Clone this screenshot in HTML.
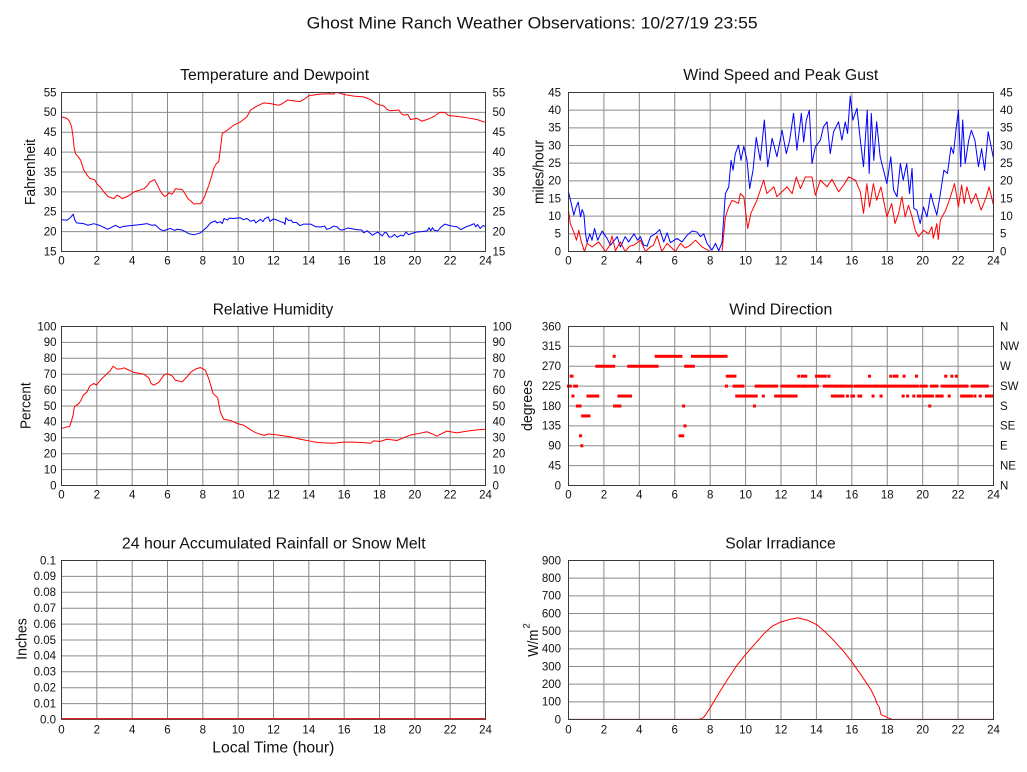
<!DOCTYPE html>
<html><head><meta charset="utf-8"><style>
html,body{margin:0;padding:0;background:#fff;}
svg{display:block;}
text{font-family:"Liberation Sans",Arial,sans-serif;fill:#111;}
.t{font-size:11.5px;}
.ttl{font-size:15.5px;}
.ax{font-size:14.5px;}
.g{stroke:#8a8a8a;stroke-width:1;fill:none;}
.f{stroke:#3a3a3a;stroke-width:1;fill:none;}
.d{fill:none;stroke-width:1;vector-effect:non-scaling-stroke;stroke-linejoin:round;}
</style></head><body>
<svg width="1027" height="772" viewBox="0 0 1027 772" xmlns="http://www.w3.org/2000/svg">
<rect width="1027" height="772" fill="#fff"/>
<text x="532.2" y="28.3" text-anchor="middle" style="font-size:17px" textLength="451" lengthAdjust="spacingAndGlyphs">Ghost Mine Ranch Weather Observations: 10/27/19 23:55</text>

<!-- Panel titles -->
<text class="ttl" x="274.7" y="80" text-anchor="middle" textLength="189" lengthAdjust="spacingAndGlyphs">Temperature and Dewpoint</text>
<text class="ttl" x="780.8" y="80" text-anchor="middle" textLength="195" lengthAdjust="spacingAndGlyphs">Wind Speed and Peak Gust</text>
<text class="ttl" x="273" y="314.3" text-anchor="middle" textLength="120.6" lengthAdjust="spacingAndGlyphs">Relative Humidity</text>
<text class="ttl" x="780.8" y="314.3" text-anchor="middle" textLength="103" lengthAdjust="spacingAndGlyphs">Wind Direction</text>
<text class="ttl" x="273.8" y="548.3" text-anchor="middle" textLength="303.7" lengthAdjust="spacingAndGlyphs">24 hour Accumulated Rainfall or Snow Melt</text>
<text class="ttl" x="780.5" y="548.3" text-anchor="middle" textLength="110.4" lengthAdjust="spacingAndGlyphs">Solar Irradiance</text>

<!-- Axis titles -->
<text class="ax" transform="translate(35,172) rotate(-90)" text-anchor="middle" textLength="66" lengthAdjust="spacingAndGlyphs">Fahrenheit</text>
<text class="ax" transform="translate(543.5,172) rotate(-90)" text-anchor="middle" textLength="64" lengthAdjust="spacingAndGlyphs">miles/hour</text>
<text class="ax" transform="translate(30.7,405.7) rotate(-90)" text-anchor="middle" textLength="46.7" lengthAdjust="spacingAndGlyphs">Percent</text>
<text class="ax" transform="translate(532,405.5) rotate(-90)" text-anchor="middle" textLength="51" lengthAdjust="spacingAndGlyphs">degrees</text>
<text class="ax" transform="translate(26.7,639) rotate(-90)" text-anchor="middle" textLength="41.7" lengthAdjust="spacingAndGlyphs">Inches</text>
<text class="ax" transform="translate(538,656.7) rotate(-90)" text-anchor="start" textLength="27" lengthAdjust="spacingAndGlyphs">W/m</text>
<text transform="translate(529.5,628.5) rotate(-90)" style="font-size:9.5px">2</text>
<text x="273.3" y="752.7" text-anchor="middle" style="font-size:16px" textLength="122" lengthAdjust="spacingAndGlyphs">Local Time (hour)</text>

<!-- ================= Panel 1 grid ================= -->
<path class="g" d="M96.83 92.5V251.5M132.17 92.5V251.5M167.5 92.5V251.5M202.83 92.5V251.5M238.17 92.5V251.5M273.5 92.5V251.5M308.83 92.5V251.5M344.17 92.5V251.5M379.5 92.5V251.5M414.83 92.5V251.5M450.17 92.5V251.5
M61.5 112.375H485.5M61.5 132.25H485.5M61.5 152.125H485.5M61.5 172H485.5M61.5 191.875H485.5M61.5 211.75H485.5M61.5 231.625H485.5"/>
<!-- Panel 2 grid -->
<path class="g" d="M603.92 92.5V251.5M639.33 92.5V251.5M674.75 92.5V251.5M710.17 92.5V251.5M745.58 92.5V251.5M781 92.5V251.5M816.42 92.5V251.5M851.83 92.5V251.5M887.25 92.5V251.5M922.67 92.5V251.5M958.08 92.5V251.5
M568.5 110.17H993.5M568.5 127.83H993.5M568.5 145.5H993.5M568.5 163.17H993.5M568.5 180.83H993.5M568.5 198.5H993.5M568.5 216.17H993.5M568.5 233.83H993.5"/>
<!-- Panel 3 grid -->
<path class="g" d="M96.83 326.5V485.5M132.17 326.5V485.5M167.5 326.5V485.5M202.83 326.5V485.5M238.17 326.5V485.5M273.5 326.5V485.5M308.83 326.5V485.5M344.17 326.5V485.5M379.5 326.5V485.5M414.83 326.5V485.5M450.17 326.5V485.5
M61.5 342.4H485.5M61.5 358.3H485.5M61.5 374.2H485.5M61.5 390.1H485.5M61.5 406H485.5M61.5 421.9H485.5M61.5 437.8H485.5M61.5 453.7H485.5M61.5 469.6H485.5"/>
<!-- Panel 4 grid -->
<path class="g" d="M603.92 326.5V485.5M639.33 326.5V485.5M674.75 326.5V485.5M710.17 326.5V485.5M745.58 326.5V485.5M781 326.5V485.5M816.42 326.5V485.5M851.83 326.5V485.5M887.25 326.5V485.5M922.67 326.5V485.5M958.08 326.5V485.5
M568.5 346.375H993.5M568.5 366.25H993.5M568.5 386.125H993.5M568.5 406H993.5M568.5 425.875H993.5M568.5 445.75H993.5M568.5 465.625H993.5"/>
<!-- Panel 5 grid -->
<path class="g" d="M96.83 560.5V719.5M132.17 560.5V719.5M167.5 560.5V719.5M202.83 560.5V719.5M238.17 560.5V719.5M273.5 560.5V719.5M308.83 560.5V719.5M344.17 560.5V719.5M379.5 560.5V719.5M414.83 560.5V719.5M450.17 560.5V719.5
M61.5 576.4H485.5M61.5 592.3H485.5M61.5 608.2H485.5M61.5 624.1H485.5M61.5 640H485.5M61.5 655.9H485.5M61.5 671.8H485.5M61.5 687.7H485.5M61.5 703.6H485.5"/>
<!-- Panel 6 grid -->
<path class="g" d="M603.92 560.5V719.5M639.33 560.5V719.5M674.75 560.5V719.5M710.17 560.5V719.5M745.58 560.5V719.5M781 560.5V719.5M816.42 560.5V719.5M851.83 560.5V719.5M887.25 560.5V719.5M922.67 560.5V719.5M958.08 560.5V719.5
M568.5 578.17H993.5M568.5 595.83H993.5M568.5 613.5H993.5M568.5 631.17H993.5M568.5 648.83H993.5M568.5 666.5H993.5M568.5 684.17H993.5M568.5 701.83H993.5"/>

<!-- ================= Data ================= -->
<!-- Panel 1 -->
<g transform="translate(61.5,92.5) scale(17.6667,-3.975) translate(0,-55)">
<polyline class="d" stroke="#ff0000" points="0,48.9 0.3,48.5 0.45,47.8 0.57,46.4 0.65,44 0.72,41 0.79,39.6 0.95,38.8 1.08,38 1.26,35.5 1.45,34.2 1.6,33.4 1.89,33 2.0,32 2.2,31.2 2.4,30 2.64,28.8 2.96,28.3 3.15,29.2 3.3,28.8 3.43,28.3 3.7,28.8 3.9,29.3 4.1,30 4.4,30.4 4.66,30.8 4.85,31.5 5.0,32.5 5.1,32.7 5.26,33.1 5.4,32 5.57,30.4 5.7,29.5 5.85,28.8 6.0,29.3 6.08,29.8 6.26,29.4 6.35,30 6.45,30.8 6.6,30.7 6.83,30.6 7.0,29.5 7.15,28.3 7.3,27.8 7.5,26.9 7.6,27 7.87,27 8.1,28.8 8.34,31.7 8.5,34 8.62,35.9 8.75,37 8.9,37.6 9.0,41 9.1,44.7 9.38,45.5 9.75,46.8 10.13,47.6 10.5,48.9 10.7,50.6 11.07,51.6 11.45,52.4 11.83,52.2 12.3,51.8 12.5,52.2 12.8,53.1 13.0,53 13.5,52.7 13.8,53.5 14.0,54.2 14.3,54.4 14.66,54.6 15.2,54.7 15.4,54.6 15.5,55 15.7,54.9 16.0,54.5 16.55,54.1 17.1,53.9 17.5,53.2 17.8,52.2 18.0,51.9 18.25,51.6 18.4,50.8 18.6,50.4 19.1,50.6 19.25,49.6 19.4,49.3 19.6,49.5 19.75,48.2 20.1,48.5 20.4,47.8 20.7,48.2 21.1,49 21.4,50 21.7,50 21.9,49.2 22.4,49 23,48.6 23.5,48.2 24,47.5"/>
<polyline class="d" stroke="#0000ff" points="0,23 0.32,22.9 0.5,23.5 0.66,24.4 0.75,23 0.85,22.2 1.26,22 1.5,21.6 1.83,22 2.2,21.5 2.6,20.6 2.8,21 3.06,21.6 3.3,21 3.5,21.3 4.1,21.6 4.5,21.8 4.85,22 5.1,21.6 5.3,21.7 5.6,20.5 5.8,20.2 6.0,20.6 6.17,20.8 6.4,20.3 6.55,20.6 6.83,20.4 7.0,20 7.2,19.5 7.5,19.2 7.87,19.7 8.25,21.2 8.43,22.2 8.7,22.7 8.8,22.2 9.0,22.5 9.1,22 9.2,23.3 9.4,22.9 9.5,23.4 9.75,23.3 10.1,23.5 10.3,23 10.5,23.3 10.7,22.6 10.9,22.9 11.0,22.2 11.26,23.1 11.4,22.5 11.5,23.2 11.7,23.7 11.8,22.6 12.0,23.2 12.2,22.9 12.4,22.5 12.6,22.2 12.65,21.8 12.7,23.5 12.85,22.8 13,22.9 13.1,22.3 13.3,22.3 13.5,21.5 13.7,21.9 14.1,21.9 14.4,21.2 14.7,21.2 14.9,21.4 15.0,20.6 15.2,20.8 15.4,21.4 15.6,21.2 15.75,20.5 15.9,20.4 16.2,20.9 16.7,20.5 17.0,20.4 17.1,19.7 17.3,20.2 17.5,19.5 17.6,19.1 17.9,19.9 18.15,18.9 18.3,19.8 18.4,19.7 18.55,18.6 18.7,18.7 18.85,19.3 19.0,18.6 19.2,19.1 19.35,18.9 19.5,19.9 19.65,19.2 19.8,19.5 20.1,19.9 20.4,20 20.7,20.2 20.8,21 20.9,20.2 21.0,21 21.1,20.3 21.3,20.2 21.5,21.2 21.7,21.9 21.9,21.6 22.1,21.4 22.4,21.2 22.6,20.5 22.9,21.2 23.15,21.6 23.35,22 23.45,21.2 23.55,21.8 23.7,20.8 23.85,21.5 24,21.3"/>
</g>
<!-- Panel 2 -->
<g transform="translate(568.5,92.5) scale(17.7083,-3.5333) translate(0,-45)">
<polyline class="d" stroke="#0000ff" points="0,16.9 0.2,12.6 0.3,10.3 0.43,12.6 0.55,14 0.68,9.8 0.77,11.9 0.87,10.6 0.96,5 1.05,2.5 1.2,5 1.33,3.2 1.47,6.5 1.65,3.2 1.9,5.8 2.18,3.7 2.37,1.8 2.75,4.2 2.93,1.3 3.2,4.2 3.4,2.7 3.7,5 3.9,3.2 4.06,4.2 4.25,1.8 4.44,1.5 4.63,4.2 4.9,5 5.15,6.2 5.38,2.7 5.57,5.3 5.75,2.5 6.13,3.7 6.41,2.7 6.7,4.6 6.98,5.8 7.26,5.5 7.45,4.2 7.64,5 7.82,2.3 8.1,0.4 8.3,2.3 8.48,0.2 8.67,2.5 8.86,16.4 9.05,18.3 9.18,25.8 9.29,23 9.42,27.7 9.6,30.1 9.74,25.8 9.9,29.8 10.08,25.8 10.23,17.8 10.42,23 10.6,32.3 10.83,25.8 11.06,37.2 11.25,24 11.5,32 11.77,26.8 12.06,34.3 12.3,27.7 12.49,31.5 12.71,39.1 12.9,28.7 13.15,39.1 13.28,31 13.43,37.2 13.6,40 13.75,24.9 13.94,29.6 14.22,31.5 14.4,35.3 14.6,36.7 14.78,27.7 14.97,33.9 15.25,36.7 15.44,31.5 15.63,36.7 15.76,33.4 15.91,44 16.06,37.2 16.29,40.5 16.48,31.5 16.66,24 16.87,40 16.98,22.1 17.1,39.1 17.24,25.8 17.4,36.7 17.6,26.8 17.79,23 17.98,19.2 18.2,26.8 18.36,17.4 18.55,15.5 18.74,24.9 18.9,20.2 19.1,24.9 19.26,16.4 19.4,23.5 19.5,12.2 19.67,11.7 19.86,7.9 20.05,12.6 20.24,9.8 20.46,16.4 20.6,13.6 20.8,10.3 21,16.4 21.2,23 21.4,22.1 21.6,29.6 21.74,27.7 21.9,35.3 22.02,40 22.15,24 22.26,37.2 22.4,24.9 22.6,31.5 22.75,34.3 22.95,31.5 23.15,24 23.33,29.1 23.5,23 23.7,33.9 24,26.3"/>
<polyline class="d" stroke="#ff0000" points="0,11.7 0.1,7.9 0.3,5.5 0.45,3.2 0.58,6 0.7,3.2 0.9,0 1.05,2.3 1.33,1.3 1.7,2.7 2.09,0 2.3,1.5 2.46,4.4 2.65,0.2 2.93,2.7 3.2,0 3.45,1.5 3.7,1.8 4.06,3.2 4.35,0 4.6,1.2 4.8,1.8 5,4.4 5.27,0 5.57,2.3 6.04,0 6.32,2.3 6.6,1 6.88,1.8 7.17,3.2 7.54,1.3 8,0 8.67,0 8.86,9.8 9.05,12.6 9.24,14.5 9.6,13.6 9.7,16.4 9.9,15.5 10.12,6.5 10.3,10.8 10.64,14.5 11.02,20.2 11.2,16.4 11.6,18.3 11.77,15.5 12.34,18.3 12.63,16.4 12.86,21.1 13.1,17.8 13.38,21.1 13.75,21.1 13.94,15.9 14.22,20.2 14.6,18.3 14.88,20.4 15.25,16.9 15.54,18.8 15.82,21.1 16.2,20.2 16.48,16.9 16.66,10.8 16.85,19.2 17,12.6 17.22,19.2 17.4,14.5 17.64,18.3 17.98,9.8 18.25,13.6 18.44,7.9 18.64,10.8 18.83,15.5 19.01,9.8 19.2,13.1 19.4,9.8 19.58,6 19.77,4.2 20.05,6 20.33,5 20.52,7 20.6,3.7 20.8,7.9 20.88,3.4 21,8.9 21.3,11.7 21.57,15.5 21.8,19.2 22.02,12.6 22.2,18.8 22.35,13.6 22.5,18.3 22.75,13.6 23,16.4 23.3,11.7 23.6,15.5 23.75,18.3 24,13.1"/>
</g>
<!-- Panel 3 -->
<g transform="translate(61.5,326.5) scale(17.6667,-1.59) translate(0,-100)">
<polyline class="d" stroke="#ff0000" points="0,35.8 0.32,36.9 0.45,37 0.55,40 0.65,44 0.73,49.5 0.98,51.6 1.1,53.5 1.23,56.8 1.45,58.9 1.6,62.5 1.83,64.2 1.98,63.1 2.2,66.2 2.58,70.4 2.75,72 2.92,75 3.15,73.2 3.4,73.4 3.53,74 3.7,73.2 4.09,71.1 4.4,70.6 4.66,70 4.94,67.7 5.07,64.2 5.22,63.1 5.5,64.8 5.79,69.4 5.98,70.4 6.26,69 6.45,66.2 6.83,65.2 7.1,68.3 7.3,71.1 7.58,73.2 7.86,74.2 8.14,72.5 8.33,67.3 8.58,57.9 8.84,55.1 8.99,46.3 9.18,41.7 9.56,40.9 9.94,39 10.31,37.9 10.6,35.8 10.88,33.8 11.26,32.1 11.5,31.6 11.7,32.4 12,32.1 12.3,31.7 12.58,31.2 12.8,30.8 13.14,30.2 13.52,29.1 13.99,28.1 14.36,27.3 14.84,26.8 15.4,26.6 15.97,27.3 16.53,27.3 17.29,26.8 17.5,26.6 17.67,28.1 18.04,27.7 18.42,29.1 18.99,28.3 19.36,30 19.74,31.7 20.3,32.9 20.68,33.8 21,32.4 21.25,31 21.5,32.5 21.82,34.2 22.38,33.1 22.95,34.2 23.52,35 24,35.4"/>
</g>
<!-- Panel 4 (wind direction scatter) -->
<g transform="translate(568.5,326.5) scale(17.7083,-0.44167) translate(0,-360)" fill="#ff0000">
<rect x="-0.085" y="221.6" width="0.27" height="6.8"/>
<rect x="0.065" y="244.1" width="0.22" height="6.8"/>
<rect x="0.165" y="199.1" width="0.17" height="6.8"/>
<rect x="0.265" y="221.6" width="0.27" height="6.8"/>
<rect x="0.415" y="176.6" width="0.32" height="6.8"/>
<rect x="0.595" y="109.1" width="0.17" height="6.8"/>
<rect x="0.665" y="86.6" width="0.17" height="6.8"/>
<rect x="0.715" y="154.1" width="0.52" height="6.8"/>
<rect x="1.015" y="199.1" width="0.72" height="6.8"/>
<rect x="1.515" y="266.6" width="1.12" height="6.8"/>
<rect x="2.495" y="289.1" width="0.17" height="6.8"/>
<rect x="2.515" y="176.6" width="0.47" height="6.8"/>
<rect x="2.765" y="199.1" width="0.82" height="6.8"/>
<rect x="3.315" y="266.6" width="1.77" height="6.8"/>
<rect x="4.865" y="289.1" width="1.57" height="6.8"/>
<rect x="6.215" y="109.1" width="0.32" height="6.8"/>
<rect x="6.415" y="176.6" width="0.17" height="6.8"/>
<rect x="6.495" y="131.6" width="0.17" height="6.8"/>
<rect x="6.535" y="266.6" width="0.6" height="6.8"/>
<rect x="6.915" y="289.1" width="2.07" height="6.8"/>
<rect x="8.835" y="221.6" width="0.17" height="6.8"/>
<rect x="8.885" y="244.1" width="0.6" height="6.8"/>
<rect x="9.265" y="221.6" width="0.57" height="6.8"/>
<rect x="9.415" y="199.1" width="1.27" height="6.8"/>
<rect x="9.765" y="221.6" width="0.17" height="6.8"/>
<rect x="10.415" y="176.6" width="0.17" height="6.8"/>
<rect x="10.515" y="221.6" width="1.32" height="6.8"/>
<rect x="10.915" y="199.1" width="0.17" height="6.8"/>
<rect x="11.615" y="199.1" width="0.97" height="6.8"/>
<rect x="11.965" y="221.6" width="0.47" height="6.8"/>
<rect x="12.365" y="221.6" width="0.42" height="6.8"/>
<rect x="12.515" y="199.1" width="0.42" height="6.8"/>
<rect x="12.715" y="221.6" width="0.67" height="6.8"/>
<rect x="12.915" y="244.1" width="0.17" height="6.8"/>
<rect x="13.115" y="244.1" width="0.37" height="6.8"/>
<rect x="13.215" y="221.6" width="0.92" height="6.8"/>
<rect x="13.915" y="244.1" width="0.67" height="6.8"/>
<rect x="14.365" y="221.6" width="0.72" height="6.8"/>
<rect x="14.615" y="244.1" width="0.17" height="6.8"/>
<rect x="14.815" y="199.1" width="0.62" height="6.8"/>
<rect x="15.015" y="221.6" width="0.47" height="6.8"/>
<rect x="15.415" y="199.1" width="0.17" height="6.8"/>
<rect x="15.365" y="221.6" width="0.72" height="6.8"/>
<rect x="15.665" y="199.1" width="0.17" height="6.8"/>
<rect x="15.915" y="199.1" width="0.27" height="6.8"/>
<rect x="16.115" y="221.6" width="0.47" height="6.8"/>
<rect x="16.315" y="199.1" width="0.27" height="6.8"/>
<rect x="16.515" y="221.6" width="0.87" height="6.8"/>
<rect x="17.265" y="221.6" width="0.62" height="6.8"/>
<rect x="16.915" y="244.1" width="0.17" height="6.8"/>
<rect x="17.115" y="199.1" width="0.17" height="6.8"/>
<rect x="17.565" y="199.1" width="0.17" height="6.8"/>
<rect x="17.815" y="221.6" width="0.57" height="6.8"/>
<rect x="18.115" y="244.1" width="0.17" height="6.8"/>
<rect x="18.315" y="244.1" width="0.32" height="6.8"/>
<rect x="18.315" y="221.6" width="0.62" height="6.8"/>
<rect x="18.815" y="199.1" width="0.17" height="6.8"/>
<rect x="18.865" y="244.1" width="0.17" height="6.8"/>
<rect x="18.915" y="221.6" width="0.57" height="6.8"/>
<rect x="19.065" y="199.1" width="0.17" height="6.8"/>
<rect x="19.415" y="199.1" width="0.17" height="6.8"/>
<rect x="19.465" y="221.6" width="0.32" height="6.8"/>
<rect x="19.565" y="244.1" width="0.17" height="6.8"/>
<rect x="19.665" y="199.1" width="0.27" height="6.8"/>
<rect x="19.815" y="221.6" width="0.47" height="6.8"/>
<rect x="19.965" y="199.1" width="0.67" height="6.8"/>
<rect x="20.315" y="176.6" width="0.17" height="6.8"/>
<rect x="20.415" y="221.6" width="0.47" height="6.8"/>
<rect x="20.715" y="199.1" width="0.47" height="6.8"/>
<rect x="21.015" y="221.6" width="1.47" height="6.8"/>
<rect x="21.215" y="244.1" width="0.17" height="6.8"/>
<rect x="21.415" y="199.1" width="0.17" height="6.8"/>
<rect x="21.565" y="244.1" width="0.17" height="6.8"/>
<rect x="21.815" y="244.1" width="0.17" height="6.8"/>
<rect x="22.115" y="199.1" width="0.72" height="6.8"/>
<rect x="22.415" y="221.6" width="0.17" height="6.8"/>
<rect x="22.715" y="221.6" width="0.27" height="6.8"/>
<rect x="22.865" y="199.1" width="0.17" height="6.8"/>
<rect x="22.965" y="221.6" width="0.77" height="6.8"/>
<rect x="23.165" y="199.1" width="0.17" height="6.8"/>
<rect x="23.515" y="199.1" width="0.485" height="6.8"/>
</g>
<!-- Panel 5: rainfall zero line -->
<line x1="61.5" y1="718.5" x2="485.5" y2="718.5" stroke="#ff0000" stroke-width="1"/>
<!-- Panel 6 -->
<g transform="translate(568.5,560.5) scale(17.7083,-0.17667) translate(0,-900)">
<polyline class="d" stroke="#ff0000" points="0,1 7.36,1 7.5,4 7.64,13 7.8,35 8,66 8.5,150 9,230 9.5,305 10,368 10.5,425 11.03,485 11.5,528 11.97,551 12.5,567 12.94,575 13.5,562 14.03,536 14.5,495 14.98,447 15.5,390 16.01,325 16.5,255 16.86,202 17.1,165 17.33,117 17.42,89 17.55,70 17.65,28 18.08,8 18.27,1 24,1"/>
</g>

<!-- Frames -->
<rect class="f" x="61.5" y="92.5" width="424" height="159"/>
<rect class="f" x="568.5" y="92.5" width="425" height="159"/>
<rect class="f" x="61.5" y="326.5" width="424" height="159"/>
<rect class="f" x="568.5" y="326.5" width="425" height="159"/>
<rect class="f" x="61.5" y="560.5" width="424" height="159"/>
<rect class="f" x="568.5" y="560.5" width="425" height="159"/>
<line x1="61.5" y1="719" x2="485.5" y2="719" stroke="#c04040" stroke-width="1"/>

<!-- ============ Tick labels ============ -->
<g class="t" text-anchor="end">
<text x="56.5" y="96.3">55</text><text x="56.5" y="116.2">50</text><text x="56.5" y="136">45</text><text x="56.5" y="155.9">40</text><text x="56.5" y="175.8">35</text><text x="56.5" y="195.7">30</text><text x="56.5" y="215.5">25</text><text x="56.5" y="235.4">20</text><text x="56.5" y="255.3">15</text>
<text x="561" y="96.3">45</text><text x="561" y="114">40</text><text x="561" y="131.6">35</text><text x="561" y="149.3">30</text><text x="561" y="167">25</text><text x="561" y="184.6">20</text><text x="561" y="202.3">15</text><text x="561" y="220">10</text><text x="561" y="237.6">5</text><text x="561" y="255.3">0</text>
<text x="56.5" y="330.3">100</text><text x="56.5" y="346.2">90</text><text x="56.5" y="362.1">80</text><text x="56.5" y="378">70</text><text x="56.5" y="393.9">60</text><text x="56.5" y="409.8">50</text><text x="56.5" y="425.7">40</text><text x="56.5" y="441.6">30</text><text x="56.5" y="457.5">20</text><text x="56.5" y="473.4">10</text><text x="56.5" y="489.3">0</text>
<text x="561" y="330.3">360</text><text x="561" y="350.2">315</text><text x="561" y="370">270</text><text x="561" y="389.9">225</text><text x="561" y="409.8">180</text><text x="561" y="429.7">135</text><text x="561" y="449.5">90</text><text x="561" y="469.4">45</text><text x="561" y="489.3">0</text>
<text x="56" y="564.3">0.1</text><text x="56" y="580.2">0.09</text><text x="56" y="596.1">0.08</text><text x="56" y="612">0.07</text><text x="56" y="627.9">0.06</text><text x="56" y="643.8">0.05</text><text x="56" y="659.7">0.04</text><text x="56" y="675.6">0.03</text><text x="56" y="691.5">0.02</text><text x="56" y="707.4">0.01</text><text x="56" y="723.3">0.0</text>
<text x="561" y="564.3">900</text><text x="561" y="582">800</text><text x="561" y="599.6">700</text><text x="561" y="617.3">600</text><text x="561" y="635">500</text><text x="561" y="652.6">400</text><text x="561" y="670.3">300</text><text x="561" y="688">200</text><text x="561" y="705.6">100</text><text x="561" y="723.3">0</text>
</g>
<g class="t" text-anchor="start">
<text x="492.5" y="96.3">55</text><text x="492.5" y="116.2">50</text><text x="492.5" y="136">45</text><text x="492.5" y="155.9">40</text><text x="492.5" y="175.8">35</text><text x="492.5" y="195.7">30</text><text x="492.5" y="215.5">25</text><text x="492.5" y="235.4">20</text><text x="492.5" y="255.3">15</text>
<text x="1000" y="96.3">45</text><text x="1000" y="114">40</text><text x="1000" y="131.6">35</text><text x="1000" y="149.3">30</text><text x="1000" y="167">25</text><text x="1000" y="184.6">20</text><text x="1000" y="202.3">15</text><text x="1000" y="220">10</text><text x="1000" y="237.6">5</text><text x="1000" y="255.3">0</text>
<text x="492.5" y="330.3">100</text><text x="492.5" y="346.2">90</text><text x="492.5" y="362.1">80</text><text x="492.5" y="378">70</text><text x="492.5" y="393.9">60</text><text x="492.5" y="409.8">50</text><text x="492.5" y="425.7">40</text><text x="492.5" y="441.6">30</text><text x="492.5" y="457.5">20</text><text x="492.5" y="473.4">10</text><text x="492.5" y="489.3">0</text>
<text x="1000" y="330.3">N</text><text x="1000" y="350.2">NW</text><text x="1000" y="370">W</text><text x="1000" y="389.9">SW</text><text x="1000" y="409.8">S</text><text x="1000" y="429.7">SE</text><text x="1000" y="449.5">E</text><text x="1000" y="469.4">NE</text><text x="1000" y="489.3">N</text>
</g>
<!-- X labels -->
<g class="t" text-anchor="middle">
<text x="61.5" y="264.3">0</text><text x="96.83" y="264.3">2</text><text x="132.17" y="264.3">4</text><text x="167.5" y="264.3">6</text><text x="202.83" y="264.3">8</text><text x="238.17" y="264.3">10</text><text x="273.5" y="264.3">12</text><text x="308.83" y="264.3">14</text><text x="344.17" y="264.3">16</text><text x="379.5" y="264.3">18</text><text x="414.83" y="264.3">20</text><text x="450.17" y="264.3">22</text><text x="485.5" y="264.3">24</text>
<text x="568.5" y="264.3">0</text><text x="603.92" y="264.3">2</text><text x="639.33" y="264.3">4</text><text x="674.75" y="264.3">6</text><text x="710.17" y="264.3">8</text><text x="745.58" y="264.3">10</text><text x="781" y="264.3">12</text><text x="816.42" y="264.3">14</text><text x="851.83" y="264.3">16</text><text x="887.25" y="264.3">18</text><text x="922.67" y="264.3">20</text><text x="958.08" y="264.3">22</text><text x="993.5" y="264.3">24</text>
<text x="61.5" y="498.5">0</text><text x="96.83" y="498.5">2</text><text x="132.17" y="498.5">4</text><text x="167.5" y="498.5">6</text><text x="202.83" y="498.5">8</text><text x="238.17" y="498.5">10</text><text x="273.5" y="498.5">12</text><text x="308.83" y="498.5">14</text><text x="344.17" y="498.5">16</text><text x="379.5" y="498.5">18</text><text x="414.83" y="498.5">20</text><text x="450.17" y="498.5">22</text><text x="485.5" y="498.5">24</text>
<text x="568.5" y="498.5">0</text><text x="603.92" y="498.5">2</text><text x="639.33" y="498.5">4</text><text x="674.75" y="498.5">6</text><text x="710.17" y="498.5">8</text><text x="745.58" y="498.5">10</text><text x="781" y="498.5">12</text><text x="816.42" y="498.5">14</text><text x="851.83" y="498.5">16</text><text x="887.25" y="498.5">18</text><text x="922.67" y="498.5">20</text><text x="958.08" y="498.5">22</text><text x="993.5" y="498.5">24</text>
<text x="61.5" y="733.3">0</text><text x="96.83" y="733.3">2</text><text x="132.17" y="733.3">4</text><text x="167.5" y="733.3">6</text><text x="202.83" y="733.3">8</text><text x="238.17" y="733.3">10</text><text x="273.5" y="733.3">12</text><text x="308.83" y="733.3">14</text><text x="344.17" y="733.3">16</text><text x="379.5" y="733.3">18</text><text x="414.83" y="733.3">20</text><text x="450.17" y="733.3">22</text><text x="485.5" y="733.3">24</text>
<text x="568.5" y="733.5">0</text><text x="603.92" y="733.5">2</text><text x="639.33" y="733.5">4</text><text x="674.75" y="733.5">6</text><text x="710.17" y="733.5">8</text><text x="745.58" y="733.5">10</text><text x="781" y="733.5">12</text><text x="816.42" y="733.5">14</text><text x="851.83" y="733.5">16</text><text x="887.25" y="733.5">18</text><text x="922.67" y="733.5">20</text><text x="958.08" y="733.5">22</text><text x="993.5" y="733.5">24</text>
</g>
</svg>
</body></html>
